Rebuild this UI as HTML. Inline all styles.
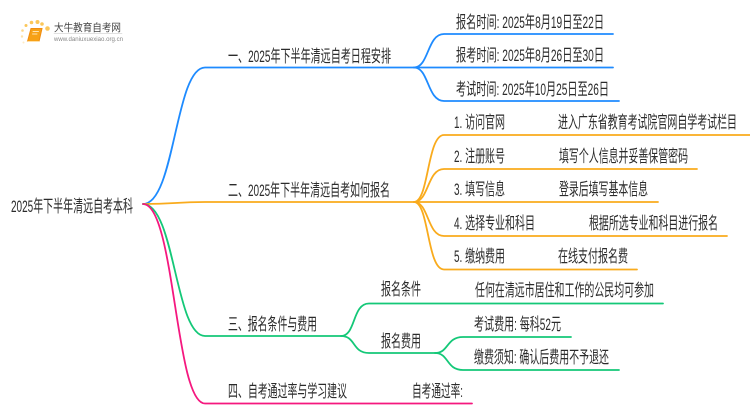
<!DOCTYPE html>
<html><head><meta charset="utf-8"><style>
html,body{margin:0;padding:0;background:#fff;width:750px;height:410px;overflow:hidden}
svg{display:block}
text{font-family:"Liberation Sans","Noto Sans CJK SC",sans-serif;font-size:17px;fill:#2b2b2b}
path{fill:none;stroke-linecap:round}
</style></head><body>
<svg width="750" height="410" viewBox="0 0 750 410" xmlns="http://www.w3.org/2000/svg">
<g stroke="#1e8bff" stroke-width="1.800"><path d="M143 204C175 204 175 67.500 205 67.500H414"/><path d="M414 67.500C429 67.500 427 34 444 34H613"/><path d="M414 67.500H613"/><path d="M414 67.500C429 67.500 427 101 444 101H619"/></g>
<g stroke="#f9ab1d" stroke-width="1.800"><path d="M143 204C175 204 175 202 205 202H414"/><path d="M414 202C429 202 427 135 444 135H750"/><path d="M414 202C429 202 427 169 444 169H697"/><path d="M414 202H658"/><path d="M414 202C429 202 427 236 444 236H727"/><path d="M414 202C429 202 427 269.500 444 269.500H637"/></g>
<g stroke="#14c878" stroke-width="1.800"><path d="M143 204C175 204 175 336 205 336H341"/><path d="M341 336C356 336 352 303.500 369 303.500H663"/><path d="M341 336C356 336 352 353 369 353H435"/><path d="M435 353C449 353 446 337 463 337H571"/><path d="M435 353C449 353 446 370 463 370H619"/></g>
<g stroke="#f5187f" stroke-width="1.800"><path d="M143 204C175 204 175 403.500 205 403.500H472"/></g>
<g transform="translate(0,1.200)">
<text x="11" y="211" textLength="122" lengthAdjust="spacingAndGlyphs">2025年下半年清远自考本科</text>
<text x="228" y="61" textLength="163" lengthAdjust="spacingAndGlyphs">一、2025年下半年清远自考日程安排</text>
<text x="228" y="195" textLength="162" lengthAdjust="spacingAndGlyphs">二、2025年下半年清远自考如何报名</text>
<text x="228" y="329" textLength="89" lengthAdjust="spacingAndGlyphs">三、报名条件与费用</text>
<text x="228" y="396" textLength="119" lengthAdjust="spacingAndGlyphs">四、自考通过率与学习建议</text>
<text x="456" y="27" textLength="148" lengthAdjust="spacingAndGlyphs">报名时间: 2025年8月19日至22日</text>
<text x="456" y="60" textLength="148" lengthAdjust="spacingAndGlyphs">报考时间: 2025年8月26日至30日</text>
<text x="456" y="94" textLength="153" lengthAdjust="spacingAndGlyphs">考试时间: 2025年10月25日至26日</text>
<text x="454" y="127" textLength="51" lengthAdjust="spacingAndGlyphs">1. 访问官网</text>
<text x="558" y="127" textLength="179" lengthAdjust="spacingAndGlyphs">进入广东省教育考试院官网自学考试栏目</text>
<text x="454" y="161" textLength="51" lengthAdjust="spacingAndGlyphs">2. 注册账号</text>
<text x="559" y="161" textLength="129" lengthAdjust="spacingAndGlyphs">填写个人信息并妥善保管密码</text>
<text x="454" y="194" textLength="51" lengthAdjust="spacingAndGlyphs">3. 填写信息</text>
<text x="559" y="194" textLength="89" lengthAdjust="spacingAndGlyphs">登录后填写基本信息</text>
<text x="454" y="228" textLength="81" lengthAdjust="spacingAndGlyphs">4. 选择专业和科目</text>
<text x="589" y="228" textLength="129" lengthAdjust="spacingAndGlyphs">根据所选专业和科目进行报名</text>
<text x="454" y="261" textLength="51" lengthAdjust="spacingAndGlyphs">5. 缴纳费用</text>
<text x="558" y="261" textLength="70" lengthAdjust="spacingAndGlyphs">在线支付报名费</text>
<text x="381" y="294" textLength="40" lengthAdjust="spacingAndGlyphs">报名条件</text>
<text x="475" y="295" textLength="179" lengthAdjust="spacingAndGlyphs">任何在清远市居住和工作的公民均可参加</text>
<text x="381" y="346" textLength="40" lengthAdjust="spacingAndGlyphs">报名费用</text>
<text x="474" y="329" textLength="87" lengthAdjust="spacingAndGlyphs">考试费用: 每科52元</text>
<text x="474" y="362" textLength="135" lengthAdjust="spacingAndGlyphs">缴费须知: 确认后费用不予退还</text>
<text x="412" y="396" textLength="51" lengthAdjust="spacingAndGlyphs">自考通过率:</text>
</g>
<!-- logo -->
<g fill="#fbc75a"><circle cx="47.500" cy="28.500" r="2.300"/><circle cx="42" cy="24" r="1.800"/><circle cx="37.500" cy="22" r="2"/><circle cx="31.500" cy="22.500" r="1.800"/><circle cx="26" cy="25.500" r="1.500"/><circle cx="22.500" cy="30.500" r="1.300" opacity=".7"/><circle cx="22" cy="36.500" r="1.200" opacity=".5"/><circle cx="23.500" cy="42.500" r="1" opacity=".35"/></g>
<path d="M31 28.500H42L39 41.500H27.500Z" style="fill:#f7a116;stroke:#f08c10;stroke-width:1"/>
<path d="M27.500 41.500H39" style="stroke:#ffe0a8;stroke-width:1"/>
<path d="M33 31.500H38.500M32.500 34H37" style="stroke:#ffe4b0;stroke-width:1"/>
<text x="54" y="31" textLength="67" lengthAdjust="spacingAndGlyphs" style="font-size:10.500px;fill:#444">大牛教育自考网</text>
<path d="M54 33.500H122" style="stroke:#d8d8d8;stroke-width:.7"/>
<text x="54" y="41" textLength="69" lengthAdjust="spacingAndGlyphs" style="font-size:6.500px;fill:#888">www.daniuxuexiao.org.cn</text>
</svg>
</body></html>
